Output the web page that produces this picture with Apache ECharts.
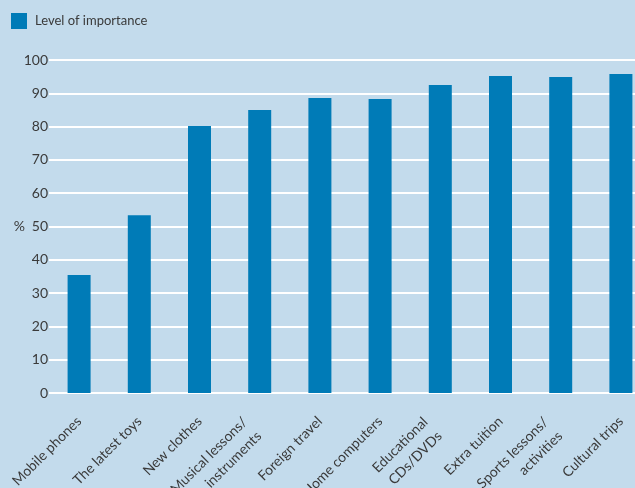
<!DOCTYPE html>
<html>
<head>
<meta charset="utf-8">
<style>
  html, body { margin: 0; padding: 0; background: #c3dbec; }
  #chart { width: 635px; height: 488px; }
</style>
<script src="https://cdn.jsdelivr.net/npm/echarts@6/dist/echarts.min.js"></script>
</head>
<body>
<div id="chart"></div>
<script>
// Items ranked by how important parents consider them
const categories = [
  'Mobile phones', 'The latest toys', 'New clothes', 'Musical lessons/\ninstruments',
  'Foreign travel', 'Home computers', 'Educational\nCDs/DVDs', 'Extra tuition',
  'Sports lessons/\nactivities', 'Cultural trips'
];
const importance = [35.4, 53.4, 80.2, 85, 88.6, 88.3, 92.5, 95.2, 94.9, 95.8];
const yTicks = { min: 0, max: 100, interval: 10 };
const seriesName = 'Level of importance';

const fontFamily = 'Lato, "Open Sans", sans-serif';
const textColor = '#3a3a3a';
const barColor = '#007bb7';

// Two-line category labels sit a little further down and back along their slant
const categoryData = categories.map(function (name) {
  return name.indexOf('\n') >= 0
    ? { value: name, textStyle: { padding: [10, 11, 0, 0] } }
    : name;
});

const chart = echarts.init(document.getElementById('chart'), null, { renderer: 'canvas' });
chart.setOption({
  backgroundColor: '#c3dbec',
  animation: false,
  textStyle: { fontFamily: fontFamily, color: textColor },
  legend: {
    left: 11,
    top: 13,
    itemWidth: 16,
    itemHeight: 16,
    icon: 'rect',
    padding: 0,
    textStyle: { fontSize: 13, color: textColor, fontFamily: fontFamily, padding: [0, 0, 0, 3] },
    data: [seriesName]
  },
  grid: { left: 49, right: -16, top: 60, bottom: 95, containLabel: false, outerBoundsMode: 'none' },
  xAxis: {
    type: 'category',
    data: categoryData,
    boundaryGap: true,
    axisLine: { show: false },
    axisTick: { show: false },
    axisLabel: {
      interval: 0,
      rotate: 45,
      margin: 26,
      fontSize: 14,
      lineHeight: 20,
      color: textColor,
      fontFamily: fontFamily
    }
  },
  yAxis: {
    type: 'value',
    min: yTicks.min,
    max: yTicks.max,
    interval: yTicks.interval,
    name: '%',
    nameLocation: 'middle',
    nameRotate: 0,
    nameGap: 24,
    nameMoveOverlap: false,
    nameTextStyle: { fontSize: 14, color: textColor, fontFamily: fontFamily, padding: [6, 0, 0, 0] },
    axisLine: { show: false },
    axisTick: { show: false },
    axisLabel: { margin: 1, fontSize: 14, color: textColor, fontFamily: fontFamily },
    splitLine: { show: true, lineStyle: { color: '#ffffff', width: 2 } }
  },
  series: [{
    name: seriesName,
    type: 'bar',
    data: importance,
    barWidth: 23,
    itemStyle: { color: barColor }
  }]
});
</script>
</body>
</html>
